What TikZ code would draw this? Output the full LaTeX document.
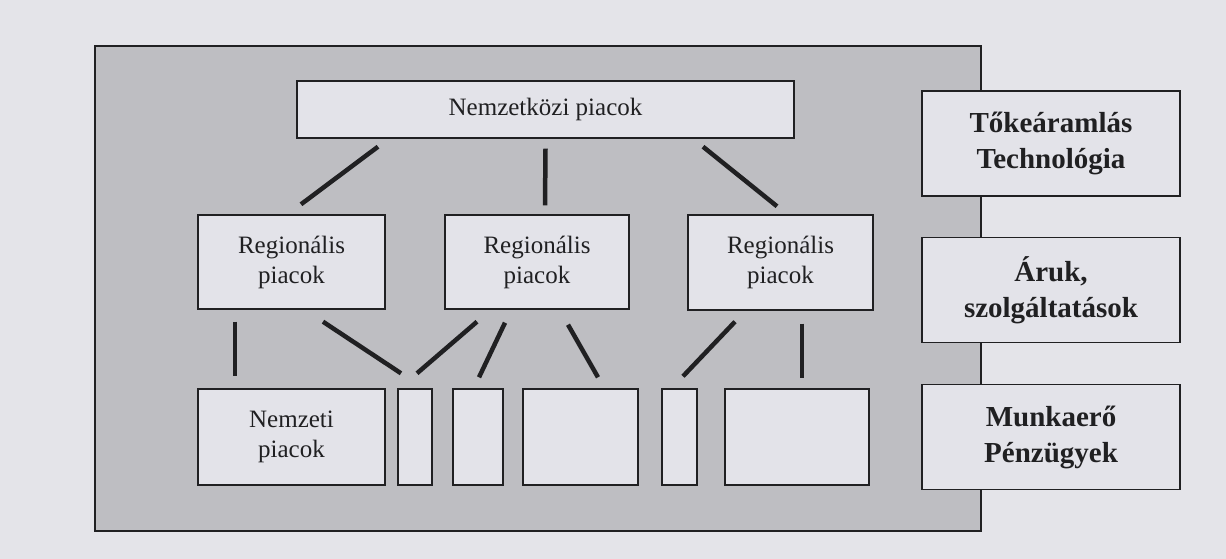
\documentclass[tikz,border=0pt]{standalone}
\usepackage{fontspec, xcolor}
\setmainfont{Liberation Serif}
\definecolor{paper}{RGB}{228,228,233}
\definecolor{shade}{RGB}{190,190,194}
\definecolor{boxfill}{RGB}{227,227,233}
\definecolor{ink}{RGB}{32,32,34}

\begin{document}
\begin{tikzpicture}[x=1pt, y=-1pt,
    box/.style={draw=ink, line width=1.4pt, fill=boxfill, inner sep=0pt,
                align=center, text=ink, font=\fontsize{25}{30}\selectfont},
    side/.style={box, minimum width=258pt, minimum height=105pt,
                 font=\fontsize{29}{36}\selectfont\bfseries},
    link/.style={draw=ink, line width=4.5pt}
  ]
  \fill[paper] (0,0) rectangle (1226,559);
  \useasboundingbox (0,0) rectangle (1226,559);

  \node[draw=ink, line width=1.6pt, fill=shade, inner sep=0pt,
        minimum width=886pt, minimum height=485pt] (frame) at (538,288.5) {};

  \node[box, minimum width=497pt, minimum height=57pt] (top) at (545.5,109.5) {Nemzetközi piacok};
  \node[box, minimum width=187pt, minimum height=94pt] (reg1) at (291.5,262) {Regionális\\piacok};
  \node[box, minimum width=184pt, minimum height=94pt] (reg2) at (537,262)   {Regionális\\piacok};
  \node[box, minimum width=185pt, minimum height=95pt] (reg3) at (780.5,262.5) {Regionális\\piacok};

  \node[box, minimum width=187pt, minimum height=96pt] (nat) at (291.5,437) {Nemzeti\\piacok};
  \node[box, minimum width=34pt,  minimum height=96pt] (s1)  at (415,437)   {};
  \node[box, minimum width=50pt,  minimum height=96pt] (s2)  at (478,437)   {};
  \node[box, minimum width=115pt, minimum height=96pt] (s3)  at (580.5,437) {};
  \node[box, minimum width=35pt,  minimum height=96pt] (s4)  at (679.5,437) {};
  \node[box, minimum width=144pt, minimum height=96pt] (s5)  at (797,437)   {};

  \node[side] (cap) at (1051,143.5) {Tőkeáramlás\\Technológia};
  \node[side] (goods) at (1051,290) {Áruk,\\szolgáltatások};
  \node[side] (lab) at (1051,437) {Munkaerő\\Pénzügyek};

  \draw[link] ([shift={(-167.5,8)}]top.south) -- ([shift={(9.5,-10)}]reg1.north);
  \draw[link] ([shift={(0,10)}]top.south) -- ([shift={(8,-9)}]reg2.north);
  \draw[link] ([shift={(157.5,8)}]top.south) -- ([shift={(-3.5,-8)}]reg3.north);

  \draw[link] ([shift={(-56.5,12)}]reg1.south) -- ([shift={(-56.5,-12)}]nat.north);
  \draw[link] ([shift={(31.5,12)}]reg1.south) -- ([shift={(-14,-15)}]s1.north);
  \draw[link] ([shift={(-60,12)}]reg2.south) -- ([shift={(2,-15)}]s1.north);
  \draw[link] ([shift={(-32,13)}]reg2.south) -- ([shift={(1,-11)}]s2.north);
  \draw[link] ([shift={(31,15)}]reg2.south) -- ([shift={(17.5,-11)}]s3.north);
  \draw[link] ([shift={(-45.5,11)}]reg3.south) -- ([shift={(3.5,-12)}]s4.north);
  \draw[link] ([shift={(21.5,13)}]reg3.south) -- ([shift={(5,-10)}]s5.north);
\end{tikzpicture}
\end{document}
